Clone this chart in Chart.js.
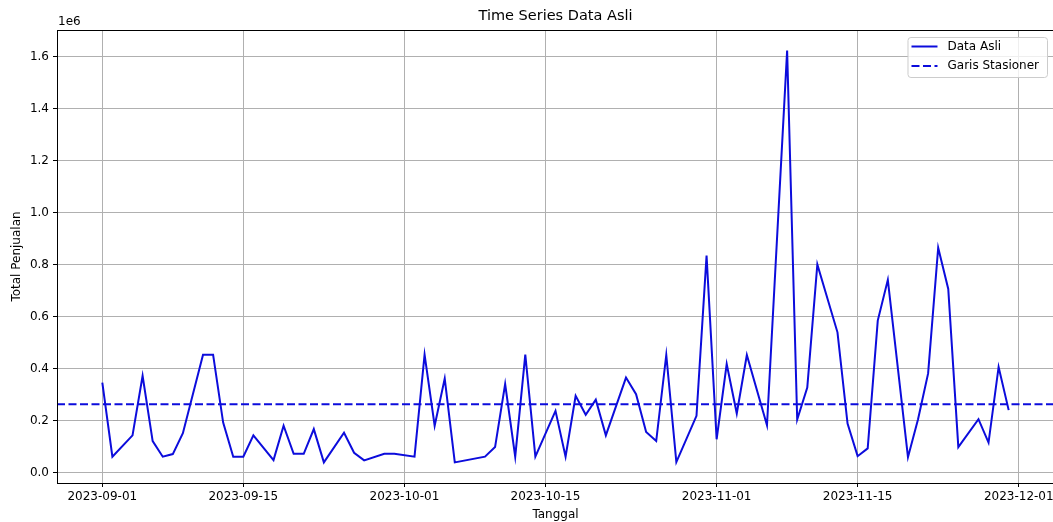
<!DOCTYPE html>
<html>
<head>
<meta charset="utf-8">
<script src="https://cdn.jsdelivr.net/npm/chart.js@4.4.1/dist/chart.umd.min.js"></script>
<style>
  html, body { margin: 0; padding: 0; background: #fff; overflow: hidden; }
  #wrap { width: 1060px; height: 522px; }
</style>
</head>
<body>
<div id="wrap"><canvas id="c" width="1060" height="522"></canvas></div>
<script>
// ---- data ----
const dates = [
  '2023-09-01','2023-09-02','2023-09-04','2023-09-05','2023-09-06','2023-09-07','2023-09-08','2023-09-09',
  '2023-09-11','2023-09-12','2023-09-13','2023-09-14','2023-09-15','2023-09-16','2023-09-18','2023-09-19',
  '2023-09-20','2023-09-21','2023-09-22','2023-09-23','2023-09-25','2023-09-26','2023-09-27','2023-09-29',
  '2023-09-30','2023-10-02','2023-10-03','2023-10-04','2023-10-05','2023-10-06','2023-10-09','2023-10-10',
  '2023-10-11','2023-10-12','2023-10-13','2023-10-14','2023-10-16','2023-10-17','2023-10-18','2023-10-19',
  '2023-10-20','2023-10-21','2023-10-23','2023-10-24','2023-10-25','2023-10-26','2023-10-27','2023-10-28',
  '2023-10-30','2023-10-31','2023-11-01','2023-11-02','2023-11-03','2023-11-04','2023-11-06','2023-11-08',
  '2023-11-09','2023-11-10','2023-11-11','2023-11-13','2023-11-14','2023-11-15','2023-11-16','2023-11-17',
  '2023-11-18','2023-11-20','2023-11-21','2023-11-22','2023-11-23','2023-11-24','2023-11-25','2023-11-27',
  '2023-11-28','2023-11-29','2023-11-30'
];
const totalPenjualan = [
  347000, 62000, 144000, 373000, 122000, 62000, 72000, 152000,
  454000, 454000, 193000, 62000, 62000, 144000, 49000, 181000,
  73000, 73000, 168000, 40000, 154000, 77000, 48000, 73000,
  73000, 62000, 454000, 181000, 362000, 40000, 62000, 99000,
  341000, 62000, 454000, 62000, 238000, 62000, 296000, 223000,
  281000, 144000, 366000, 302000, 157000, 122000, 453000, 41000,
  219000, 835000, 129000, 418000, 228000, 453000, 183000, 1623000,
  205000, 328000, 801000, 540000, 189000, 64000, 94000, 585000,
  742000, 60000, 206000, 382000, 865000, 707000, 99000, 206000,
  116000, 407000, 241000
];
const garisStasioner = 264000;
const xTickLabels = ['2023-09-01','2023-09-15','2023-10-01','2023-10-15','2023-11-01','2023-11-15','2023-12-01'];
const yTickValues = [0, 200000, 400000, 600000, 800000, 1000000, 1200000, 1400000, 1600000];

// ---- helpers ----
const DAY = 86400000;
const t0 = Date.UTC(2023, 8, 1);
function dayIndex(s) {
  const p = s.split('-').map(Number);
  return Math.round((Date.UTC(p[0], p[1] - 1, p[2]) - t0) / DAY);
}
function dayLabel(d) {
  const dt = new Date(t0 + d * DAY);
  return dt.toISOString().slice(0, 10);
}
const dayVals = dates.map(dayIndex);
const span = dayVals[dayVals.length - 1] - dayVals[0];
const xMin = dayVals[0] - span * 0.05;
const xMax = dayVals[dayVals.length - 1] + span * 0.05;
const yLo = Math.min(...totalPenjualan), yHi = Math.max(...totalPenjualan);
const yMin = yLo - (yHi - yLo) * 0.05;
const yMax = yHi + (yHi - yLo) * 0.05;

const FONT = "'DejaVu Sans', 'Liberation Sans', sans-serif";
const BLUE = '#0c0cdc';

const decorPlugin = {
  id: 'decor',
  afterDraw(chart) {
    const ctx = chart.ctx;
    const a = chart.chartArea;
    ctx.save();
    // spines
    ctx.strokeStyle = '#000';
    ctx.lineWidth = 1;
    ctx.strokeRect(a.left + 0.5, a.top + 0.5, a.right - a.left, a.bottom - a.top);
    // title
    ctx.fillStyle = '#000';
    ctx.font = '14.5px ' + FONT;
    ctx.textAlign = 'center';
    ctx.textBaseline = 'middle';
    ctx.fillText('Time Series Data Asli', (a.left + a.right) / 2, 16);
    // offset text
    ctx.font = '12px ' + FONT;
    ctx.textAlign = 'left';
    ctx.textBaseline = 'middle';
    ctx.fillText('1e6', a.left + 1, 22);
    // legend
    const ds = chart.data.datasets;
    ctx.font = '12px ' + FONT;
    let tw = 0;
    ds.forEach(d => { tw = Math.max(tw, ctx.measureText(d.label).width); });
    const boxW = 4 + 26 + 10 + tw + 8;
    const boxH = 40;
    const bx = a.right - 7 - boxW;
    const by = a.top + 7;
    ctx.fillStyle = 'rgba(255,255,255,0.8)';
    ctx.strokeStyle = '#cccccc';
    ctx.lineWidth = 1;
    ctx.beginPath();
    ctx.roundRect(bx + 0.5, by + 0.5, boxW, boxH, 3);
    ctx.fill();
    ctx.stroke();
    ds.forEach((d, i) => {
      const ly = by + 9.5 + i * 19.5;
      ctx.strokeStyle = d.borderColor;
      ctx.lineWidth = 2;
      ctx.setLineDash(d.borderDash || []);
      ctx.beginPath();
      ctx.moveTo(bx + 4, ly);
      ctx.lineTo(bx + 30, ly);
      ctx.stroke();
      ctx.setLineDash([]);
      ctx.fillStyle = '#000';
      ctx.textAlign = 'left';
      ctx.textBaseline = 'middle';
      ctx.fillText(d.label, bx + 40, ly);
    });
    ctx.restore();
  }
};

new Chart(document.getElementById('c'), {
  type: 'line',
  data: {
    datasets: [
      {
        label: 'Data Asli',
        data: dayVals.map((d, i) => ({ x: d, y: totalPenjualan[i] })),
        borderColor: BLUE,
        borderWidth: 2,
        pointRadius: 0,
        tension: 0,
        fill: false
      },
      {
        label: 'Garis Stasioner',
        data: [{ x: xMin, y: garisStasioner }, { x: xMax, y: garisStasioner }],
        borderColor: BLUE,
        borderWidth: 2,
        borderDash: [8, 3.5],
        pointRadius: 0,
        tension: 0,
        fill: false
      }
    ]
  },
  options: {
    responsive: false,
    animation: false,
    devicePixelRatio: 1,
    layout: { padding: { left: 0, right: 6, top: 30, bottom: 0 } },
    plugins: {
      legend: { display: false },
      title: { display: false },
      tooltip: { enabled: false }
    },
    scales: {
      x: {
        type: 'linear',
        min: xMin,
        max: xMax,
        afterBuildTicks(scale) {
          scale.ticks = xTickLabels.map(s => ({ value: dayIndex(s) }));
        },
        afterFit(scale) { scale.height = 39; },
        ticks: {
          autoSkip: false,
          maxRotation: 0,
          color: '#000',
          padding: 3,
          font: { family: FONT, size: 12 },
          callback: v => dayLabel(v)
        },
        grid: { color: '#b0b0b0', lineWidth: 1, tickColor: '#000', tickLength: 4, drawTicks: true },
        border: { display: true, color: '#000', width: 1 },
        title: { display: true, text: 'Tanggal', color: '#000', font: { family: FONT, size: 12 }, padding: { top: 0, bottom: 0 } }
      },
      y: {
        type: 'linear',
        min: yMin,
        max: yMax,
        afterBuildTicks(scale) {
          scale.ticks = yTickValues.map(v => ({ value: v }));
        },
        afterFit(scale) { scale.width = 57; },
        ticks: {
          color: '#000',
          padding: 4,
          font: { family: FONT, size: 12 },
          callback: v => (v / 1e6).toFixed(1)
        },
        grid: { color: '#b0b0b0', lineWidth: 1, tickColor: '#000', tickLength: 4, drawTicks: true },
        border: { display: true, color: '#000', width: 1 },
        title: { display: true, text: 'Total Penjualan', color: '#000', font: { family: FONT, size: 12 }, padding: { top: 10, bottom: 0 } }
      }
    }
  },
  plugins: [decorPlugin]
});
</script>
</body>
</html>
